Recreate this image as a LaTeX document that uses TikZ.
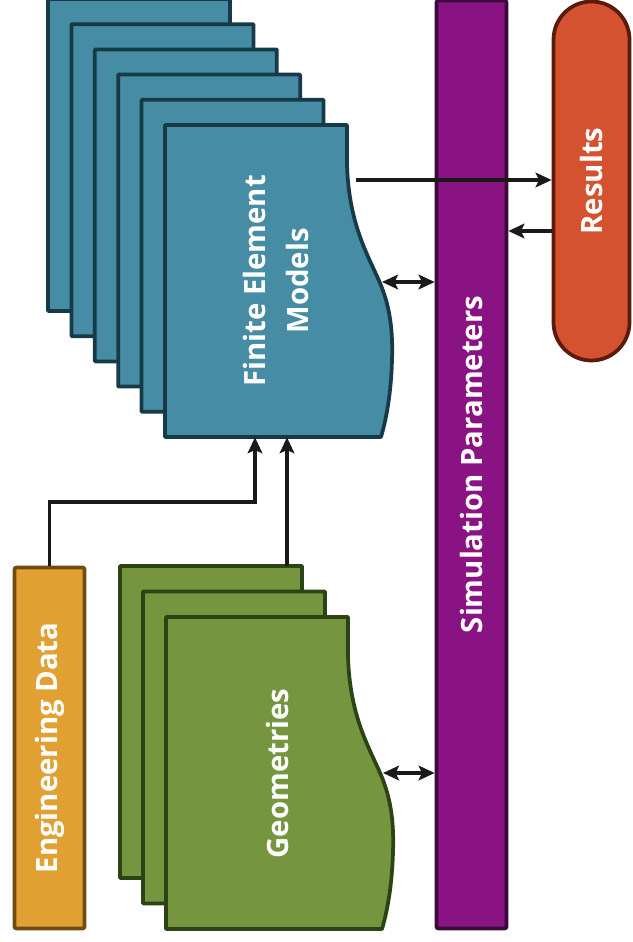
\documentclass[tikz,border=0pt]{standalone}
\usepackage{fontspec}
\setmainfont{Open Sans}
\usetikzlibrary{arrows.meta, positioning, calc}

\definecolor{femfill}{HTML}{468CA5}
\definecolor{femline}{HTML}{173A47}
\definecolor{geofill}{HTML}{76953F}
\definecolor{geoline}{HTML}{2C4315}
\definecolor{engfill}{HTML}{E0A132}
\definecolor{engline}{HTML}{6E4C12}
\definecolor{simfill}{HTML}{8A1384}
\definecolor{simline}{HTML}{3A0A3A}
\definecolor{resfill}{HTML}{D55230}
\definecolor{resline}{HTML}{5A1A0C}
\definecolor{arrline}{HTML}{1A1A1A}

\begin{document}
\begin{tikzpicture}[
                x=0.75pt, y=-0.75pt,
                docsheet/.pic={\path[pic actions] (0,0) -- (182,0) -- (182,40)
                        .. controls (184,100) and (203,130) .. (215,158)
                        .. controls (225,182) and (228,205) .. (227,235)
                        .. controls (226,270) and (221,295) .. (216,312)
                        -- (0,312) -- cycle;},
                femsheet/.style={fill=femfill, draw=femline, line width=2.8pt, line join=round},
                geosheet/.style={fill=geofill, draw=geoline, line width=2.8pt, line join=round},
                area/.style={rectangle, inner sep=0pt},
                lbl/.style={text=white, font=\bfseries\fontsize{22}{32}\selectfont, align=center, rotate=90},
                engbox/.style={rectangle, fill=engfill, draw=engline, line width=2.8pt, rounded corners=1.5pt},
                simbox/.style={rectangle, fill=simfill, draw=simline, line width=2.8pt, rounded corners=1.5pt},
                resbox/.style={rectangle, fill=resfill, draw=resline, line width=2.8pt, rounded corners=28.5pt},
                arr/.style={-{Stealth[length=12pt, width=11pt, inset=2.5pt]}, draw=arrline, line width=2.5pt},
                dbl/.style={{Stealth[length=12pt, width=11pt, inset=2.5pt]}-{Stealth[length=12pt, width=11pt, inset=2.5pt]}, draw=arrline, line width=2.5pt}
        ]
        \useasboundingbox (0,0) rectangle (632,942);

        % Stacks of sheets
        \foreach \i in {0,...,5}
                \pic[femsheet] at ({48+23.4*\i},{-1+25.2*\i}) {docsheet};
        \foreach \i in {0,1,2}
                \pic[geosheet] at ({120+23*\i},{566+25.5*\i}) {docsheet};

        % Main nodes
        \node[area, minimum width=169.5pt, minimum height=234pt,
                label={[lbl]center:Finite Element\\Models}] (fem) at (276,281) {};
        \node[area, minimum width=169.5pt, minimum height=234.75pt,
                label={[lbl]center:Geometries}] (geo) at (277,773.5) {};
        \node[engbox, minimum width=52.5pt, minimum height=270.75pt,
                label={[lbl]center:Engineering Data}] (edata) at (49.5,748) {};
        \node[simbox, minimum width=52.5pt, minimum height=696pt,
                label={[lbl]center:Simulation Parameters}] (sim) at (471.5,464.5) {};
        \node[resbox, minimum width=57pt, minimum height=269.25pt,
                label={[lbl]center:Results}] (results) at (591.5,181) {};

        % Connection points
        \coordinate (turn) at (255,502);
        \coordinate (geotop) at (287,566);
        \coordinate (femout) at (356,180);
        \coordinate (femside) at (382,282);
        \coordinate (geoside) at (383,773);
        \coordinate (resback) at ($(results.west)+(0,50)$);

        % Draw the arrows
        \draw[arr] (edata.north) |- (turn) -- (turn |- fem.south);
        \draw[arr] (geotop) -- (geotop |- fem.south);
        \draw[arr] (femout) -- (femout -| results.west);
        \draw[arr] (resback) -- (resback -| sim.east);
        \draw[dbl] (femside) -- (femside -| sim.west);
        \draw[dbl] (geoside) -- (geoside -| sim.west);
\end{tikzpicture}
\end{document}
